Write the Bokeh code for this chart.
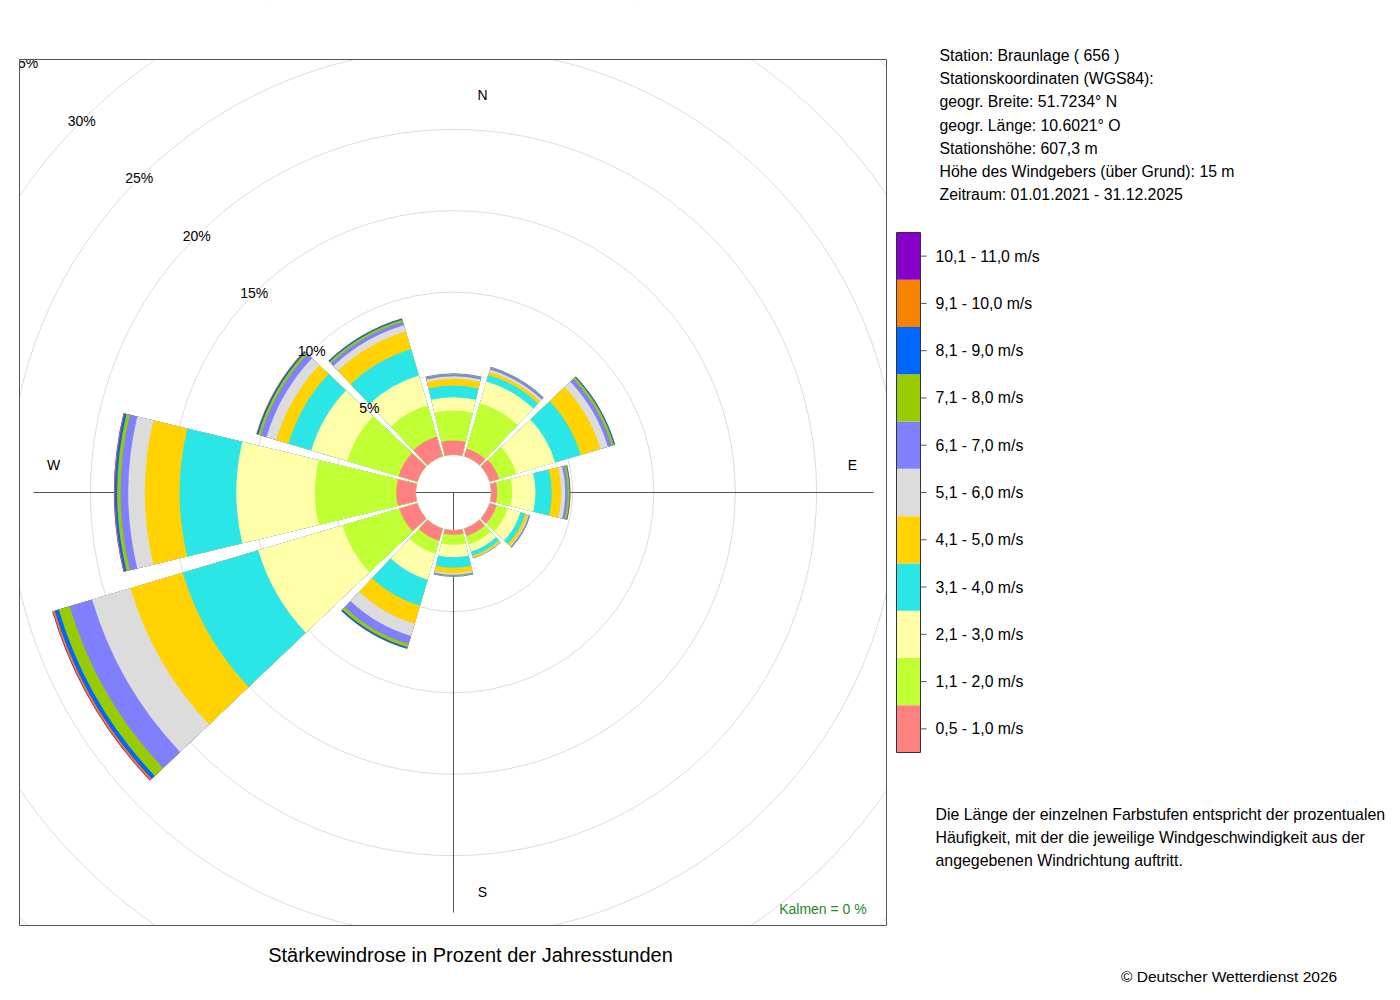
import numpy as np
from bokeh.plotting import figure
from bokeh.models import Range1d
from bokeh.embed import file_html
from bokeh.resources import INLINE
from bokeh.core.properties import value

# ---------------- data ----------------
directions = [0, 30, 60, 90, 120, 150, 180, 210, 240, 270, 300, 330]

classes = ["0,5 - 1,0 m/s", "1,1 - 2,0 m/s", "2,1 - 3,0 m/s", "3,1 - 4,0 m/s",
           "4,1 - 5,0 m/s", "5,1 - 6,0 m/s", "6,1 - 7,0 m/s", "7,1 - 8,0 m/s",
           "8,1 - 9,0 m/s", "9,1 - 10,0 m/s", "10,1 - 11,0 m/s"]
colors = ["#FF8080", "#BFFF33", "#FFFFAA", "#2BE6E6", "#FFD200", "#DCDCDC",
          "#8080FF", "#99CC00", "#0066FF", "#F58200", "#8800CC"]

# percent of annual hours per direction (N, 30, 60, E, 120, 150, S, 210, 240, W, 300, 330)
v_05_10 = [0.88, 0.51, 0.60, 0.37, 0.45, 0.47, 0.28, 0.78, 1.15, 1.20, 1.20, 1.27]
v_11_20 = [1.84, 2.89, 1.12, 0.92, 0.70, 0.53, 0.62, 0.82, 3.65, 5.00, 3.30, 2.00]
v_21_30 = [0.82, 1.40, 2.48, 1.43, 0.82, 0.47, 0.76, 1.68, 5.40, 4.83, 2.30, 1.91]
v_31_40 = [0.72, 0.42, 1.64, 1.00, 0.31, 0.26, 0.65, 1.67, 4.84, 3.48, 1.46, 1.68]
v_41_50 = [0.41, 0.20, 1.26, 0.58, 0.17, 0.10, 0.33, 1.15, 3.35, 2.14, 0.79, 1.14]
v_51_60 = [0.16, 0.14, 0.48, 0.25, 0.07, 0.04, 0.10, 0.78, 2.46, 1.02, 0.62, 0.41]
v_61_70 = [0.11, 0.12, 0.24, 0.15, 0.06, 0.03, 0.06, 0.52, 1.44, 0.47, 0.37, 0.21]
v_71_80 = [0.04, 0.04, 0.15, 0.12, 0.02, 0.02, 0.05, 0.20, 0.70, 0.21, 0.16, 0.13]
v_81_90 = [0.02, 0.02, 0.07, 0.04, 0.01, 0.00, 0.01, 0.10, 0.26, 0.14, 0.10, 0.09]
v_91_100 = [0.00, 0.00, 0.01, 0.02, 0.00, 0.00, 0.00, 0.02, 0.12, 0.04, 0.04, 0.01]
v_101_110 = [0.00, 0.00, 0.00, 0.00, 0.00, 0.00, 0.00, 0.00, 0.04, 0.02, 0.00, 0.00]
series = [v_05_10, v_11_20, v_21_30, v_31_40, v_41_50, v_51_60, v_61_70,
          v_71_80, v_81_90, v_91_100, v_101_110]

ring_values = [5, 10, 15, 20, 25, 30, 35]
ring_labels = ["5%", "10%", "15%", "20%", "25%", "30%", "35%"]

compass_labels = ["N", "E", "S", "W"]

info_lines = ["Station:  Braunlage  ( 656 )",
              "Stationskoordinaten (WGS84):",
              "geogr. Breite: 51.7234° N",
              "geogr. Länge: 10.6021° O",
              "Stationshöhe: 607,3 m",
              "Höhe des Windgebers (über Grund): 15 m",
              "Zeitraum: 01.01.2021 - 31.12.2025"]
note_lines = ["Die Länge der einzelnen Farbstufen entspricht der prozentualen",
              "Häufigkeit, mit der die jeweilige Windgeschwindigkeit aus der",
              "angegebenen Windrichtung auftritt."]
title_text = "Stärkewindrose in Prozent der Jahresstunden"
footer_text = "© Deutscher Wetterdienst  2026"
calm_text = "Kalmen  =  0 %"

# ---------------- layout ----------------
W, H = 1390, 990
OFF = 0              # page offset of the canvas
S = 16.27            # px per percent
CX, CY = 453, 492    # page position of rose centre
R0 = 37.7 / S        # inner hole radius (in percent units)
FONT = value("Liberation Sans")

p = figure(width=W, height=H,
           x_range=Range1d(-(CX - OFF) / S, (OFF + W - CX) / S),
           y_range=Range1d(-(OFF + H - CY) / S, (CY - OFF) / S),
           x_axis_type=None, y_axis_type=None,
           toolbar_location=None, output_backend="svg", min_border=0)
p.outline_line_color = None
p.background_fill_color = "white"
p.border_fill_color = "white"
p.extra_x_ranges = {"px": Range1d(OFF, OFF + W)}
p.extra_y_ranges = {"py": Range1d(OFF + H, OFF)}
PX = dict(x_range_name="px", y_range_name="py")

# grid circles
p.circle(x=[0] * (len(ring_values) + 1), y=[0] * (len(ring_values) + 1),
         radius=[R0] + [R0 + v for v in ring_values],
         fill_color=None, line_color="#DDDDDD", line_width=1)

# axis cross
L = 420 / S
p.segment(x0=[0, -L], y0=[-L, 0], x1=[0, L], y1=[0, 0], line_color="#555555", line_width=1)

# wind rose bars (cumulative, outermost drawn first)
dirs = np.array(directions, dtype=float)
cum = np.cumsum(np.array(series), axis=0)
half = 13.5
start = np.radians(90 - dirs - half)
end = np.radians(90 - dirs + half)
for k in range(len(series) - 1, -1, -1):
    mask = np.array(series[k]) > 0
    if not mask.any():
        continue
    p.annular_wedge(x=np.zeros(mask.sum()), y=np.zeros(mask.sum()),
                    inner_radius=R0, outer_radius=(R0 + cum[k])[mask],
                    start_angle=start[mask], end_angle=end[mask],
                    fill_color=colors[k], line_color=None)

# ring labels on the 315° diagonal
rr = np.array([R0 + v for v in ring_values])
p.text(x=-rr * np.sin(np.radians(45)), y=rr * np.cos(np.radians(45)), text=ring_labels,
       text_font=FONT, text_font_size="14px", text_align="center",
       text_baseline="middle", text_color="black")

# compass letters
p.text(x=[482, 852, 482, 53], y=[94, 464, 891, 464], text=compass_labels,
       text_font=FONT, text_font_size="14px", text_align="center",
       text_baseline="middle", text_color="black", **PX)

p.text(x=[874], y=[908], text=[calm_text], text_font=FONT, text_font_size="14px",
       text_align="right", text_baseline="middle", text_color="#228B22", **PX)

# mask outside of the plot box (clip), then the box
BL, BR, BT, BB = 19, 886, 59, 925
p.quad(left=[-100, BR, -100, -100], right=[BL, 1500, 1500, 1500],
       top=[-100, -100, -100, BB], bottom=[1100, 1100, BT, 1100],
       fill_color="white", line_color=None, **PX)
p.quad(left=[BL], right=[BR], top=[BT], bottom=[BB], fill_color=None,
       line_color="#555555", line_width=1, **PX)

# station info
p.text(x=[939] * len(info_lines), y=[55 + 23.2 * i for i in range(len(info_lines))],
       text=info_lines, text_font=FONT, text_font_size="15.8px", text_align="left",
       text_baseline="middle", text_color="black", **PX)

# legend colour bar
LT, LB = 232, 752
hh = (LB - LT) / len(classes)
bots = [LB - i * hh for i in range(len(classes))]
tops = [LB - (i + 1) * hh for i in range(len(classes))]
mids = [LB - (i + 0.5) * hh for i in range(len(classes))]
p.quad(left=[896] * len(classes), right=[920] * len(classes), top=tops, bottom=bots,
       fill_color=colors, line_color=None, **PX)
p.quad(left=[896], right=[920], top=[LT], bottom=[LB], fill_color=None,
       line_color="#333333", line_width=1, **PX)
p.segment(x0=[920] * len(classes), x1=[926] * len(classes), y0=mids, y1=mids,
          line_color="#555555", line_width=1, **PX)
p.text(x=[935] * len(classes), y=mids, text=classes, text_font=FONT,
       text_font_size="15.8px", text_align="left", text_baseline="middle",
       text_color="black", **PX)

# explanation
p.text(x=[935] * len(note_lines), y=[814 + 23 * i for i in range(len(note_lines))],
       text=note_lines, text_font=FONT, text_font_size="15.9px", text_align="left",
       text_baseline="middle", text_color="black", **PX)

# title & footer
p.text(x=[470], y=[954], text=[title_text], text_font=FONT, text_font_size="20px",
       text_align="center", text_baseline="middle", text_color="black", **PX)
p.text(x=[1341], y=[976], text=[footer_text], text_font=FONT, text_font_size="15.5px",
       text_align="right", text_baseline="middle", text_color="black", **PX)

open("out.html", "w").write(file_html(p, INLINE))
